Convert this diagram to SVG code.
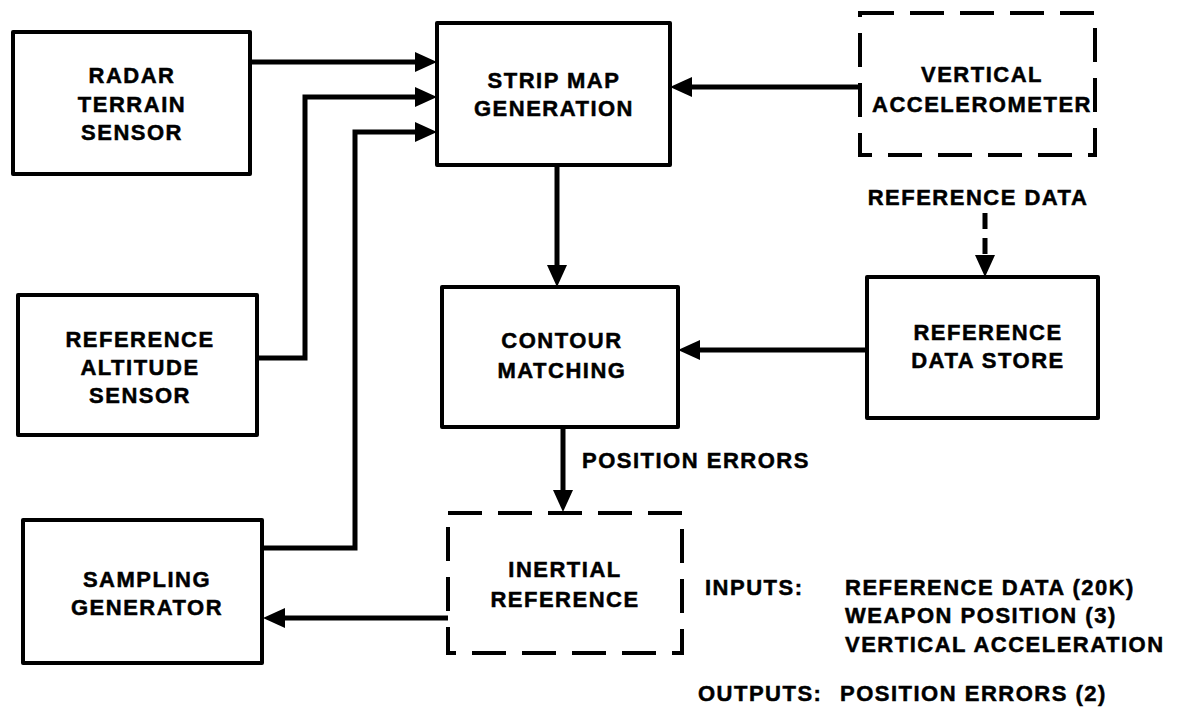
<svg xmlns="http://www.w3.org/2000/svg" width="1189" height="710" viewBox="0 0 1189 710">
<defs>
<style>
.box{fill:none;stroke:#000;stroke-width:4;stroke-linejoin:round}
.dbox{fill:none;stroke:#000;stroke-width:4;stroke-dasharray:34 16}
.ln{fill:none;stroke:#000;stroke-width:5;stroke-linejoin:miter}
.dln{fill:none;stroke:#000;stroke-width:5;stroke-dasharray:16 9}
text{font-family:"Liberation Sans",Arial,sans-serif;font-weight:bold;font-size:22px;letter-spacing:1.5px;fill:#000;stroke:#000;stroke-width:0.5}
.c{text-anchor:middle}
</style>
<marker id="ah" markerUnits="userSpaceOnUse" markerWidth="24" markerHeight="22" refX="10" refY="10" orient="auto">
<path d="M0,0 L22,10 L0,20 Z" fill="#000"/>
</marker>
</defs>
<rect width="1189" height="710" fill="#fff"/>
<g id="connectors">
<path class="ln" d="M250,62 H425" marker-end="url(#ah)"/>
<path class="ln" d="M257,358 H305 V97 H425" marker-end="url(#ah)"/>
<path class="ln" d="M262,548 H355 V132 H425" marker-end="url(#ah)"/>
<path class="ln" d="M860,87 H682" marker-end="url(#ah)"/>
<path class="ln" d="M557,165 V275" marker-end="url(#ah)"/>
<path class="ln" d="M867,350 H690" marker-end="url(#ah)"/>
<path class="ln" d="M563,427 V500" marker-end="url(#ah)"/>
<path class="ln" d="M448,618 H275" marker-end="url(#ah)"/>
<path class="dln" d="M985,213 V265" marker-end="url(#ah)"/>
</g>
<g id="radar">
<rect class="box" x="13" y="32" width="237" height="142"/>
<text class="c" x="132" y="83">RADAR</text>
<text class="c" x="132" y="112">TERRAIN</text>
<text class="c" x="132" y="140">SENSOR</text>
</g>
<g id="altitude">
<rect class="box" x="18" y="295" width="239" height="140"/>
<text class="c" x="140" y="347">REFERENCE</text>
<text class="c" x="140" y="375">ALTITUDE</text>
<text class="c" x="140" y="403">SENSOR</text>
</g>
<g id="sampling">
<rect class="box" x="23" y="520" width="239" height="143"/>
<text class="c" x="147" y="587">SAMPLING</text>
<text class="c" x="147" y="615">GENERATOR</text>
</g>
<g id="stripmap">
<rect class="box" x="437" y="23" width="233" height="142"/>
<text class="c" x="554" y="88">STRIP MAP</text>
<text class="c" x="554" y="116">GENERATION</text>
</g>
<g id="contour">
<rect class="box" x="442" y="287" width="236" height="140"/>
<text class="c" x="562" y="348">CONTOUR</text>
<text class="c" x="562" y="378">MATCHING</text>
</g>
<g id="inertial">
<rect class="dbox" x="448" y="513" width="234" height="140"/>
<text class="c" x="565" y="577">INERTIAL</text>
<text class="c" x="565" y="607">REFERENCE</text>
</g>
<g id="accelerometer">
<rect class="dbox" x="860" y="13" width="235" height="142"/>
<text class="c" x="982" y="82">VERTICAL</text>
<text class="c" x="982" y="112">ACCELEROMETER</text>
</g>
<g id="refstore">
<rect class="box" x="867" y="277" width="231" height="141"/>
<text class="c" x="988" y="340">REFERENCE</text>
<text class="c" x="988" y="368">DATA STORE</text>
</g>
<g id="labels">
<text class="c" x="978" y="205">REFERENCE DATA</text>
<text x="582" y="468">POSITION ERRORS</text>
<text x="705" y="595">INPUTS:</text>
<text x="845" y="595">REFERENCE DATA (20K)</text>
<text x="845" y="623">WEAPON POSITION (3)</text>
<text x="845" y="652">VERTICAL ACCELERATION</text>
<text x="698" y="701">OUTPUTS:</text>
<text x="840" y="701">POSITION ERRORS (2)</text>
</g>
</svg>
